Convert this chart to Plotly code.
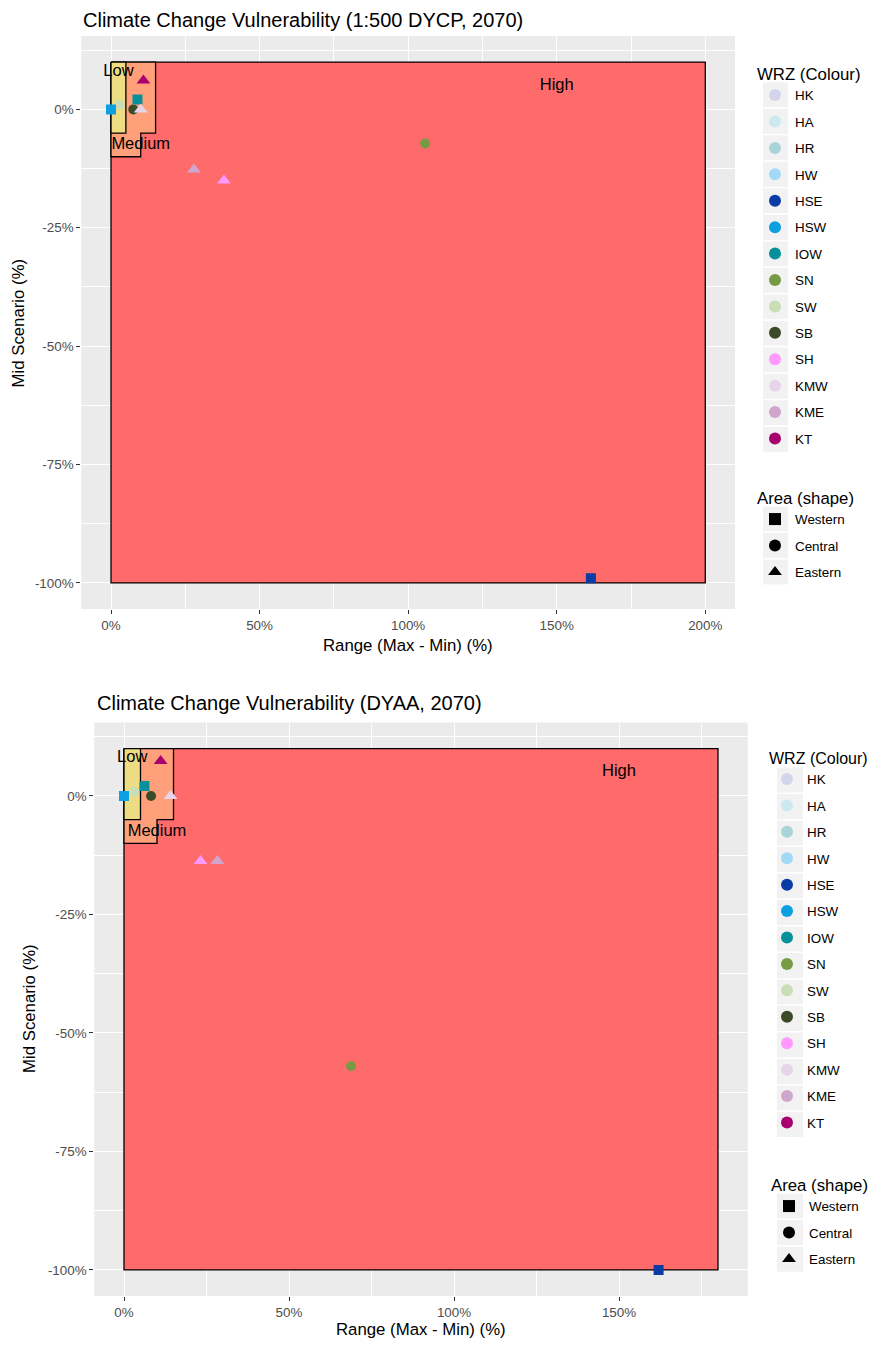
import plotly.graph_objects as go

# ---------------- data ----------------
wrz = ["HK", "HA", "HR", "HW", "HSE", "HSW", "IOW", "SN", "SW", "SB", "SH", "KMW", "KME", "KT"]
wrz_area = ["Western", "Western", "Western", "Western", "Western", "Western", "Western",
            "Central", "Central", "Central",
            "Eastern", "Eastern", "Eastern", "Eastern"]
wrz_colours = ["#D4D4EC", "#CDE9F0", "#A9D4DA", "#A3D9F7", "#0A3CA6", "#0DA0E0", "#07909A",
               "#779A45", "#C9DEB4", "#3C4B27", "#FF99FF", "#E6D5E8", "#D0A6CC", "#A8006E"]
areas = ["Western", "Central", "Eastern"]
area_symbols = ["square", "circle", "triangle-up"]

# 1:500 DYCP, 2070  (Range %, Mid scenario %)
dycp_range = [None, None, None, None, 161.5, 0.0, 8.9, 105.7, 2.9, 7.5, 38.0, 10.0, 27.9, 10.9]
dycp_mid = [None, None, None, None, -99.0, 0.0, 2.1, -7.2, 1.0, 0.0, -15.0, 0.0, -12.7, 6.1]
# DYAA, 2070
dyaa_range = [None, None, None, None, 162.0, 0.0, 6.2, 68.8, 3.1, 8.2, 23.2, 14.1, 28.3, 11.1]
dyaa_mid = [None, None, None, None, -100.0, 0.0, 2.1, -57.0, 0.9, 0.0, -13.7, 0.0, -13.7, 7.4]

# vulnerability zones
low_x = [0, 5, 5, 0, 0]
low_y = [10, 10, -5, -5, 10]
medium_x = [0, 15, 15, 10, 10, 0, 0]
medium_y = [10, 10, -5, -5, -10, -10, 10]
high_x_dycp = [0, 200, 200, 0, 0]
high_x_dyaa = [0, 180, 180, 0, 0]
high_y = [10, 10, -100, -100, 10]
zone_labels = ["Low", "Medium", "High"]
zone_label_x = [2.5, 10, 150]
zone_label_y = [8, -7.5, 5]
zone_colours = ["#EEDC82", "#FFA07A", "#FF6A6A"]

x_ticks_dycp = [0, 50, 100, 150, 200]
x_ticks_dyaa = [0, 50, 100, 150]
y_ticks = [0, -25, -50, -75, -100]

titles = ["Climate Change Vulnerability (1:500 DYCP, 2070)", "Climate Change Vulnerability (DYAA, 2070)"]

FONT = "Liberation Sans, Arial, sans-serif"
OFF = 8  # page body margin
W, H = 879 - OFF, 1345 - OFF


def px(x):
    return (x - OFF) / W


def py(y):
    return 1 - (y - OFF) / H


def pct(v):
    return f"{v}%"


fig = go.Figure()

panels = [
    dict(xr=dycp_range, ym=dycp_mid, hx=high_x_dycp, xa="x", ya="y", xrange=[-10, 210],
         xdom=[px(81.3), px(735)], ydom=[py(609), py(36)], legs=("legend", "legend2"), ticks=x_ticks_dycp),
    dict(xr=dyaa_range, ym=dyaa_mid, hx=high_x_dyaa, xa="x2", ya="y2", xrange=[-9, 189],
         xdom=[px(94.3), px(747.7)], ydom=[py(1296), py(722.5)], legs=("legend3", "legend4"), ticks=x_ticks_dyaa),
]

draw_order = ["Central", "Western", "Eastern"]

for p in panels:
    for zx, zy, col in [(p["hx"], high_y, zone_colours[2]), (medium_x, medium_y, zone_colours[1]), (low_x, low_y, zone_colours[0])]:
        fig.add_trace(go.Scatter(x=zx, y=zy, mode="lines", fill="toself", fillcolor=col,
                                 line=dict(color="black", width=1.3), showlegend=False, hoverinfo="skip",
                                 xaxis=p["xa"], yaxis=p["ya"]))
    fig.add_trace(go.Scatter(x=zone_label_x, y=zone_label_y, mode="text", text=zone_labels,
                             textfont=dict(family=FONT, size=16.5, color="black"), showlegend=False,
                             hoverinfo="skip", xaxis=p["xa"], yaxis=p["ya"]))
    for a in draw_order:
        for i, w in enumerate(wrz):
            if wrz_area[i] != a or p["xr"][i] is None:
                continue
            sym = area_symbols[areas.index(a)]
            size = {"square": 10, "circle": 10, "triangle-up": 12}[sym]
            fig.add_trace(go.Scatter(x=[p["xr"][i]], y=[p["ym"][i]], mode="markers",
                                     marker=dict(color=wrz_colours[i], symbol=sym, size=size, line=dict(width=0)),
                                     showlegend=False, name=w, xaxis=p["xa"], yaxis=p["ya"]))
    for i, w in enumerate(wrz):
        fig.add_trace(go.Scatter(x=[None], y=[None], mode="markers", name=w,
                                 marker=dict(color=wrz_colours[i], symbol="circle", size=10),
                                 legend=p["legs"][0], legendgroup=p["legs"][0] + w, xaxis=p["xa"], yaxis=p["ya"]))
    for a, s in zip(areas, area_symbols):
        fig.add_trace(go.Scatter(x=[None], y=[None], mode="markers", name=a,
                                 marker=dict(color="black", symbol=s, size=10),
                                 legend=p["legs"][1], legendgroup=p["legs"][1] + a, xaxis=p["xa"], yaxis=p["ya"]))

axis_common = dict(showgrid=True, gridcolor="white", gridwidth=1.1, zeroline=False,
                   ticks="outside", ticklen=4, tickcolor="#333333", tickwidth=1,
                   tickfont=dict(family=FONT, size=13.4, color="#4D4D4D"), showline=False)

layout_axes = {}
for k, p in enumerate(panels):
    sx = "xaxis" if k == 0 else "xaxis2"
    sy = "yaxis" if k == 0 else "yaxis2"
    layout_axes[sx] = dict(axis_common, domain=p["xdom"], range=p["xrange"], tickvals=p["ticks"],
                           ticktext=[pct(v) for v in p["ticks"]], anchor=p["ya"],
                           minor=dict(dtick=25, tick0=0, showgrid=True, gridcolor="white", gridwidth=0.5, ticks=""))
    layout_axes[sy] = dict(axis_common, domain=p["ydom"], range=[-105.5, 15.5], tickvals=y_ticks,
                           ticktext=[pct(v) for v in y_ticks], anchor=p["xa"],
                           minor=dict(dtick=12.5, tick0=0, showgrid=True, gridcolor="white", gridwidth=0.5, ticks=""))

annotations = []
annotations.append(dict(text=titles[0], x=px(82), y=py(19.5), xref="paper", yref="paper", xanchor="left", yanchor="middle",
                        borderpad=0, showarrow=False, font=dict(family=FONT, size=20, color="black")))
annotations.append(dict(text=titles[1], x=px(96), y=py(703), xref="paper", yref="paper", xanchor="left", yanchor="middle",
                        borderpad=0, showarrow=False, font=dict(family=FONT, size=20, color="black")))
for xc, yc in [((81.3 + 735) / 2, 645), ((94.3 + 747.7) / 2, 1329)]:
    annotations.append(dict(text="Range (Max - Min) (%)", x=px(xc), y=py(yc), xref="paper", yref="paper",
                            xanchor="center", yanchor="middle", showarrow=False, font=dict(family=FONT, size=16.8, color="black")))
annotations.append(dict(text="Mid Scenario (%)", x=0, y=py(323), xref="paper", yref="paper", textangle=-90,
                        xanchor="left", yanchor="middle", borderpad=0, showarrow=False,
                        font=dict(family=FONT, size=16.8, color="black")))
annotations.append(dict(text="Mid Scenario (%)", x=px(30), y=py(1009), xref="paper", yref="paper", textangle=-90,
                        xanchor="center", yanchor="middle", showarrow=False, font=dict(family=FONT, size=16.8, color="black")))

# grey legend key backgrounds
shapes = []
key_sets = [
    (763, 788, 94.8, 26.5, len(wrz)),
    (763, 788, 519, 26.5, len(areas)),
    (777, 803, 780, 26.5, len(wrz)),
    (777, 803, 1206, 26.6, len(areas)),
]
for x0, x1, c0, step, n in key_sets:
    for i in range(n):
        c = c0 + i * step
        shapes.append(dict(type="rect", xref="paper", yref="paper", x0=px(x0), x1=px(x1),
                           y0=py(c + 12.5), y1=py(c - 12.5), fillcolor="#F2F2F2", line=dict(width=0), layer="below"))

legend_common = dict(font=dict(family=FONT, size=13.4, color="black"), bgcolor="rgba(0,0,0,0)",
                     xanchor="left", yanchor="top", tracegroupgap=6, itemsizing="constant")
ltitle = dict(font=dict(family=FONT, size=16.8, color="black"))

fig.update_layout(
    width=W, height=H, autosize=False,
    margin=dict(l=0, r=0, t=0, b=0),
    paper_bgcolor="white", plot_bgcolor="#EBEBEB",
    annotations=annotations, shapes=shapes,
    legend=dict(legend_common, x=px(755), y=py(58), title=dict(ltitle, text="WRZ (Colour)")),
    legend2=dict(legend_common, x=px(755), y=py(482), title=dict(ltitle, text="Area (shape)")),
    legend3=dict(legend_common, x=px(767), y=py(743),
                 title=dict(text="WRZ (Colour)", font=dict(family=FONT, size=16, color="black"))),
    legend4=dict(legend_common, x=px(769), y=py(1169), title=dict(ltitle, text="Area (shape)")),
    **layout_axes,
)

fig.write_html("out.html")
